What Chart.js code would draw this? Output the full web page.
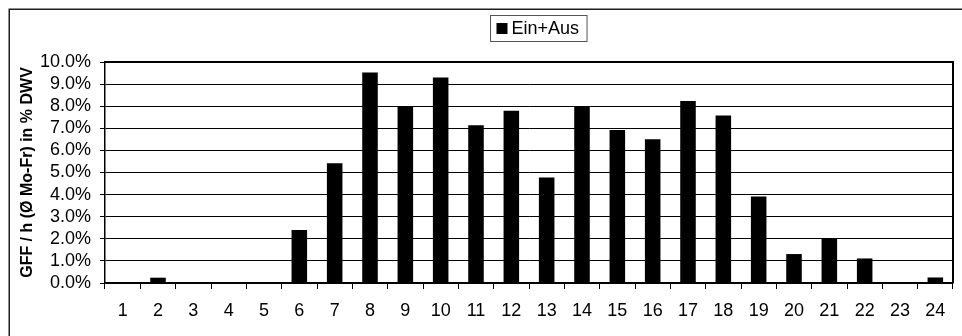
<!DOCTYPE html>
<html>
<head>
<meta charset="utf-8">
<script src="https://cdn.jsdelivr.net/npm/chart.js@4.4.1/dist/chart.umd.min.js"></script>
<style>
  html, body { margin: 0; padding: 0; background: #fff; }
  #wrap { width: 962px; height: 336px; }
</style>
</head>
<body>
<div id="wrap"><canvas id="c" width="962" height="336"></canvas></div>
<script>
// Hour of day (1..24)
const hours = ['1','2','3','4','5','6','7','8','9','10','11','12','13','14','15','16','17','18','19','20','21','22','23','24'];
// Share of daily traffic per hour, in percent (Mon-Fri average)
const einAus = [0, 0.24, 0, 0, 0, 2.4, 5.42, 9.52, 8.0, 9.3, 7.14, 7.79, 4.77, 8.0, 6.92, 6.5, 8.24, 7.58, 3.91, 1.31, 1.99, 1.11, 0, 0.25];
const seriesLabel = 'Ein+Aus';
const yTitle = 'GFF / h (Ø Mo-Fr) in % DWV';
const yMin = 0, yMax = 10, yStep = 1;

const FONT = "'Liberation Sans', Arial, Helvetica, sans-serif";

const framePlugin = {
  id: 'framePlugin',
  beforeDraw(chart) {
    const ctx = chart.ctx;
    ctx.save();
    ctx.fillStyle = '#fff';
    ctx.fillRect(0, 0, chart.width, chart.height);
    ctx.restore();
  },
  afterDraw(chart) {
    const ctx = chart.ctx;
    const a = chart.chartArea;
    ctx.save();
    // outer frame (top and left edges)
    ctx.strokeStyle = '#1e1e1e';
    ctx.lineWidth = 1.5;
    ctx.beginPath();
    ctx.moveTo(9.25, chart.height);
    ctx.lineTo(9.25, 9.25);
    ctx.lineTo(chart.width, 9.25);
    ctx.stroke();
    // plot area: heavier top and right edges
    ctx.strokeStyle = '#000';
    ctx.lineWidth = 2;
    ctx.beginPath();
    ctx.moveTo(a.left, a.top);
    ctx.lineTo(a.right, a.top);
    ctx.lineTo(a.right, a.bottom);
    ctx.stroke();

    // legend box
    const ds = chart.data.datasets[0];
    ctx.font = '18px ' + FONT;
    const tw = ctx.measureText(ds.label).width;
    const sq = 11, padL = 6, gap = 4, padR = 8;
    const w = padL + sq + gap + tw + padR;
    const h = 26;
    const cx = 538;
    const x0 = Math.round(cx - w / 2) + 0.5;
    const y0 = 15.5;
    ctx.strokeStyle = '#555';
    ctx.lineWidth = 1;
    ctx.strokeRect(x0, y0, w, h);
    ctx.fillStyle = ds.backgroundColor;
    ctx.fillRect(x0 + padL, y0 + h / 2 - sq / 2, sq, sq);
    ctx.fillStyle = '#000';
    ctx.textBaseline = 'middle';
    ctx.textAlign = 'left';
    ctx.fillText(ds.label, x0 + padL + sq + gap, y0 + h / 2 + 1);
    ctx.restore();
  }
};

new Chart(document.getElementById('c'), {
  type: 'bar',
  data: {
    labels: hours,
    datasets: [{
      label: seriesLabel,
      data: einAus,
      backgroundColor: '#000',
      borderColor: '#000',
      borderWidth: 0,
      barPercentage: 0.44,
      categoryPercentage: 1.0
    }]
  },
  options: {
    responsive: false,
    animation: false,
    devicePixelRatio: 1,
    layout: { padding: { top: 62, left: 9, right: 9, bottom: 0 } },
    plugins: {
      legend: { display: false },
      tooltip: { enabled: false }
    },
    scales: {
      x: {
        grid: {
          display: true,
          drawOnChartArea: false,
          drawTicks: true,
          tickLength: 6,
          color: '#000',
          lineWidth: 1,
          offset: true
        },
        border: { display: true, color: '#000', width: 1.5 },
        ticks: {
          color: '#000',
          font: { family: FONT, size: 18 },
          padding: 11,
          maxRotation: 0,
          autoSkip: false
        },
        afterFit(scale) { scale.height = 53; }
      },
      y: {
        min: yMin,
        max: yMax,
        grid: {
          color: '#000',
          lineWidth: 1,
          drawTicks: true,
          tickLength: 5
        },
        border: { display: true, color: '#000', width: 1.5 },
        ticks: {
          stepSize: yStep,
          autoSkip: false,
          color: '#000',
          font: { family: FONT, size: 18 },
          padding: 9,
          callback: (v) => Number(v).toFixed(1) + '%'
        },
        title: {
          display: true,
          text: yTitle,
          color: '#000',
          font: { family: FONT, size: 16, weight: 'bold' },
          padding: { top: 9, bottom: 0 }
        },
        afterFit(scale) { scale.width = 96; }
      }
    }
  },
  plugins: [framePlugin]
});
</script>
</body>
</html>
